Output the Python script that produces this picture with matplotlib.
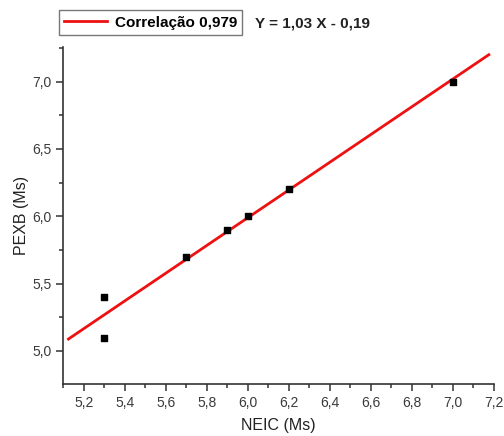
import matplotlib
matplotlib.use("Agg")
import matplotlib.pyplot as plt
import numpy as np
from matplotlib.ticker import MultipleLocator, FuncFormatter

plt.rcParams['font.family'] = ['Liberation Sans', 'DejaVu Sans']

# data
neic = [5.3, 5.3, 5.7, 5.9, 6.0, 6.2, 7.0]
pexb = [5.4, 5.1, 5.7, 5.9, 6.0, 6.2, 7.0]
slope = 1.03
intercept = -0.19
fit_x = [5.125, 7.175]
legend_text = 'Correlação 0,979'
eq_text = 'Y = 1,03 X - 0,19'

fig = plt.figure(figsize=(5.04, 4.36), dpi=100)
ax = fig.add_axes([0.1256, 0.1193, 0.8545, 0.7737])

fx = np.array(fit_x)
line, = ax.plot(fx, slope * fx + intercept, color='#ee1111', lw=2, zorder=2)
ax.scatter(neic, pexb, marker='s', s=22, color='black', zorder=3)

ax.set_xlim(5.1, 7.2)
ax.set_ylim(4.755, 7.26)

ax.xaxis.set_major_locator(MultipleLocator(0.2))
ax.xaxis.set_minor_locator(MultipleLocator(0.1))
ax.yaxis.set_major_locator(MultipleLocator(0.5))
ax.yaxis.set_minor_locator(MultipleLocator(0.25))
comma = lambda v, p: ('%.1f' % v).replace('.', ',')
ax.xaxis.set_major_formatter(FuncFormatter(comma))
ax.yaxis.set_major_formatter(FuncFormatter(comma))

for s in ['top', 'right']:
    ax.spines[s].set_visible(False)
for s in ['left', 'bottom']:
    ax.spines[s].set_color('#333333')
    ax.spines[s].set_linewidth(1.2)

ax.tick_params(which='major', direction='out', length=5, width=1.1, color='#333333',
               labelsize=10, labelcolor='#3a3a3a')
ax.tick_params(which='minor', direction='out', length=3, width=1.1, color='#333333')

ax.set_xlabel('NEIC (Ms)', fontsize=11.5, color='#222222', labelpad=6)
ax.set_ylabel('PEXB (Ms)', fontsize=11.5, color='#222222', labelpad=2)

leg = fig.legend([line], [legend_text], loc='upper left', bbox_to_anchor=(0.117, 0.976),
                 frameon=True, fancybox=False, edgecolor='#777777', framealpha=1,
                 handlelength=2.8, handletextpad=0.5, borderpad=0.35, borderaxespad=0,
                 prop={'weight': 'bold', 'size': 11})
leg.get_frame().set_linewidth(1.0)

fig.text(0.506, 0.947, eq_text, fontsize=11, fontweight='bold', color='#222222', va='center')

fig.savefig('out.png', dpi=100)
